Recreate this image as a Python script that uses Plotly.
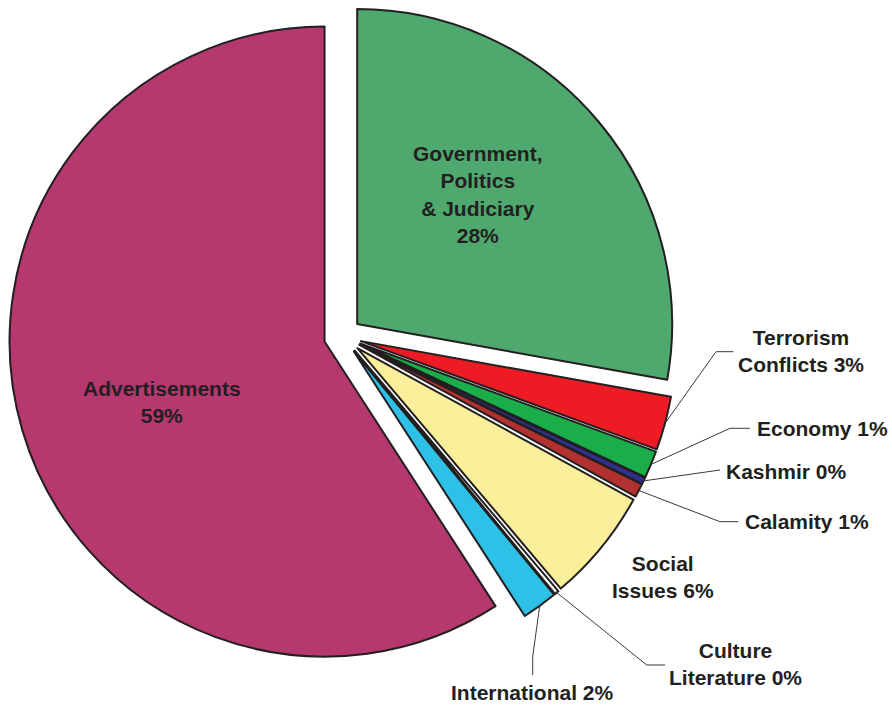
import math
import plotly.graph_objects as go

# ---- data ----
categories = ["Government, Politics & Judiciary", "Terrorism Conflicts", "Economy",
              "Kashmir", "Calamity", "Social Issues", "Culture Literature",
              "International", "Advertisements"]
values = [27.83, 2.75, 1.39, 0.33, 0.69, 5.83, 0.22, 1.83, 59.13]
display_text = ["Government,<br>Politics<br>& Judiciary<br>28%", "Terrorism<br>Conflicts 3%",
                "Economy 1%", "Kashmir 0%", "Calamity 1%", "Social<br>Issues 6%",
                "Culture<br>Literature 0%", "International 2%", "Advertisements<br>59%"]

# ---- style ----
colors = ["#4fa96f", "#ed1c24", "#1aae4b", "#2e3192", "#b2302f", "#f9ee99",
          "#ffffff", "#2ec1e8", "#b5386f"]
PULL = 0.06
W, H = 892, 707
DOM_X = [0.00987, 0.7585]
DOM_Y = [0.0522, 0.99675]
TXT = "#231f20"
FONT = dict(family="Liberation Sans, Arial, sans-serif", size=21, color=TXT, weight="bold")

fig = go.Figure(go.Pie(
    labels=categories, values=values, sort=False, direction="clockwise", rotation=0,
    pull=[PULL] * len(values),
    marker=dict(colors=colors, line=dict(color=TXT, width=2)),
    textinfo="none", hoverinfo="label+percent",
    domain=dict(x=DOM_X, y=DOM_Y), showlegend=False,
))

# geometry as plotly lays it out
wpx = W * (DOM_X[1] - DOM_X[0])
hpx = H * (DOM_Y[1] - DOM_Y[0])
cx = W * (DOM_X[0] + DOM_X[1]) / 2
cy = H * (1 - DOM_Y[0]) - hpx / 2
r = min(wpx, hpx) / 2 / (1 + PULL)
total = sum(values)

def px2paper(x, y):
    return x / W, 1 - y / H

# label layout: (x px, y px, xanchor, leader waypoints after arc point)
label_layout = [
    (478, 195, "center", None),
    (800.5, 351, "center", [(716, 351.7), (733.3, 351.7)]),
    (755, 428.5, "left", [(730, 428.3), (750, 428.3)]),
    (724, 471.5, "left", [(720, 470)]),
    (742.7, 521.5, "left", [(720, 521.7), (738.3, 521.7)]),
    (663, 577, "center", None),
    (735.5, 664, "center", [(646.7, 665), (665, 665)]),
    (532.5, 692, "center", [(532.7, 656.7), (532.7, 675)]),
    (161.5, 401.5, "center", None),
]

annotations = []
shapes = []
cum = 0.0
for i, v in enumerate(values):
    mid = (cum + v / 2) / total * 2 * math.pi
    cum += v
    lx, ly, xa, way = label_layout[i]
    px, py = px2paper(lx, ly)
    annotations.append(dict(text=display_text[i], x=px, y=py, xref="paper", yref="paper",
                            xanchor=xa, yanchor="middle", showarrow=False, align="center",
                            font=FONT))
    if way:
        ax = cx + r * (1 + PULL) * math.sin(mid)
        ay = cy - r * (1 + PULL) * math.cos(mid)
        pts = [(ax, ay)] + way
        pp = [px2paper(x, y) for x, y in pts]
        path = "M " + " L ".join(f"{x:.5f},{y:.5f}" for x, y in pp)
        shapes.append(dict(type="path", path=path, xref="paper", yref="paper",
                           line=dict(color="#3a3a3a", width=1)))

fig.update_layout(
    width=W, height=H, margin=dict(l=0, r=0, t=0, b=0),
    paper_bgcolor="white", plot_bgcolor="white",
    annotations=annotations, shapes=shapes,
)
fig.write_html("out.html", config={"displayModeBar": False},
               post_script="document.body.style.margin='0';document.body.style.overflow='hidden';")
